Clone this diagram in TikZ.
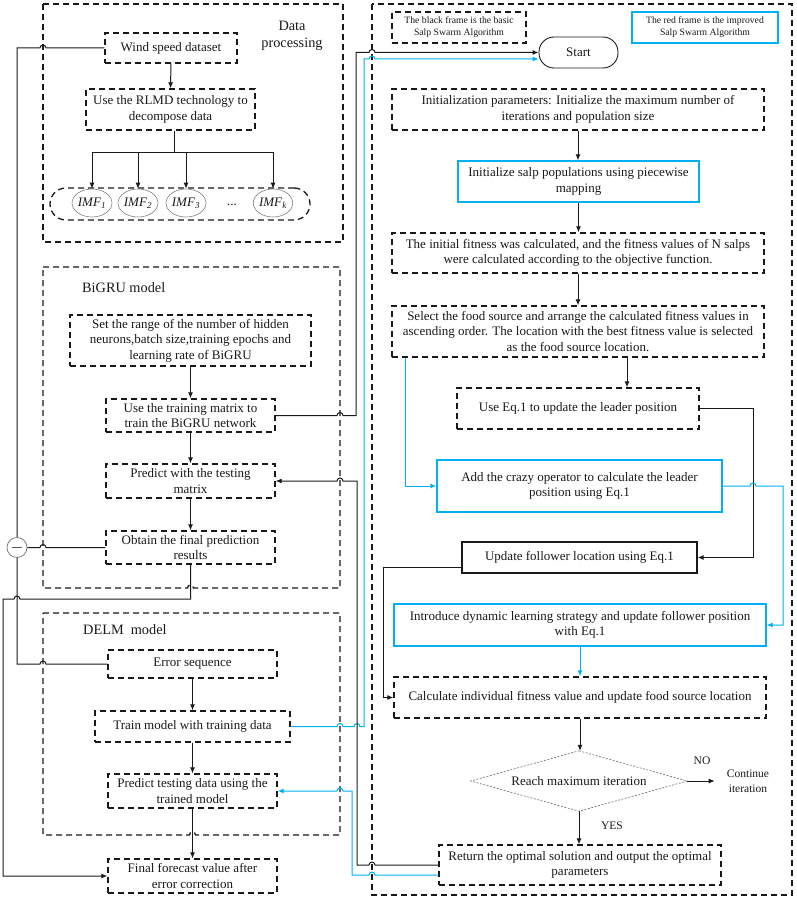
\documentclass[tikz,border=0pt]{standalone}
\usepackage{fontspec}
\setmainfont{Liberation Serif}
\usetikzlibrary{arrows.meta,shapes.geometric}
\definecolor{sky}{RGB}{0,176,240}
\definecolor{ink}{RGB}{25,25,25}
\begin{document}
\begin{tikzpicture}[x=1pt,y=1pt,
  every node/.style={font=\fontsize{13}{15.5}\selectfont, text=ink, inner sep=2pt, align=center},
  dashpat/.style={dash pattern=on 6pt off 4pt},
  dbox/.style={draw=ink, line width=1.3pt, dashpat},
  bbox/.style={draw=sky, line width=1.3pt},
  kbox/.style={draw=ink, line width=1.3pt},
  frame/.style={draw=ink, line width=1.3pt, dashpat},
  wire/.style={draw=ink, line width=1pt},
  bwire/.style={draw=sky, line width=1pt},
  arr/.style={-{Latex[length=6pt,width=5pt]}},
  hd/.style={font=\fontsize{14.3}{17}\selectfont},
  small/.style={font=\fontsize{9.7}{12}\selectfont},
  lab/.style={font=\fontsize{11.5}{15}\selectfont},
  sz/.style 2 args={minimum width=#1pt, minimum height=#2pt},
  imf/.style={ellipse, draw=gray, line width=0.6pt, minimum width=37pt, minimum height=28pt, inner sep=0pt},
]
\useasboundingbox (0,0) rectangle (796,-899);

% ---------- Data processing ----------
\draw[frame] (43,-4) rectangle (343,-242);
\node[hd] (dplab) at (292,-36) {Data\\processing};
\node[dbox,sz={132}{30}] (wind) at (171,-48) {Wind speed dataset};
\node[dbox,sz={169}{41}] (rlmd) at (170.5,-109.5) {Use the RLMD technology to\\decompose data};
\node[dbox,sz={260}{32},rounded corners=16pt] (imfs) at (180,-204) {};
\node[imf] (i1) at (92,-203) {\textit{IMF}\textsubscript{\textit{1}}};
\node[imf] (i2) at (138,-203) {\textit{IMF}\textsubscript{\textit{2}}};
\node[imf] (i3) at (186,-203) {\textit{IMF}\textsubscript{\textit{3}}};
\node[imf] (ik) at (273,-203) {\textit{IMF}\textsubscript{\textit{k}}};
\node (dots) at (232,-205) {...};
\coordinate (br) at (174,-152);
\draw[wire,arr] (wind.south) -- (rlmd.north);
\draw[wire] ([xshift=3.5pt]rlmd.south) -- (br);
\draw[wire] (i1.north |- br) -- (ik.north |- br);
\foreach \n in {i1,i2,i3,ik} \draw[wire,arr] (\n.north |- br) -- (\n.north);

% ---------- BiGRU ----------
\draw[frame] (43,-267) -- (340,-267) -- (340,-588) -- (193.5,-588) arc[start angle=0,end angle=180,radius=3pt] -- (43,-588) -- cycle;
\node[hd,anchor=west] (bglab) at (80,-288) {BiGRU model};
\node[dbox,sz={241}{51}] (range) at (190.5,-340.5) {Set the range of the number of hidden\\neurons,batch size,training epochs and\\learning rate of BiGRU};
\node[dbox,sz={169}{33}] (train) at (190.5,-415.5) {Use the training matrix to\\train the BiGRU network};
\node[dbox,sz={169}{34}] (predict) at (190.5,-481) {Predict with the testing\\matrix};
\node[dbox,sz={169}{33}] (obtain) at (190.5,-547.5) {Obtain the final prediction\\results};
\draw[wire,arr] (range.south) -- (train.north);
\draw[wire,arr] (train.south) -- (predict.north);
\draw[wire,arr] (predict.south) -- (obtain.north);
\node[draw=gray,line width=0.8pt,circle,minimum size=20pt,inner sep=0pt] (minus) at (17,-547.5) {};
\draw[gray!70!black,line width=1.4pt] ([xshift=-5pt]minus.center) -- ([xshift=5pt]minus.center);

% ---------- DELM ----------
\draw[frame] (43,-613) -- (340,-613) -- (340,-835) -- (195.5,-835) arc[start angle=0,end angle=180,radius=3pt] -- (43,-835) -- cycle;
\node[hd,anchor=west] (dllab) at (81,-630) {DELM\ \ model};
\node[dbox,sz={169}{28}] (error) at (192.5,-664) {Error sequence};
\node[dbox,sz={195}{31}] (trainm) at (192.5,-726.5) {Train model with training data};
\node[dbox,sz={169}{34}] (predt) at (192.5,-791) {Predict testing data using the\\trained model};
\node[dbox,sz={169}{34}] (final) at (192.5,-876) {Final forecast value after\\error correction};
\draw[wire,arr] (error.south) -- (trainm.north);
\draw[wire,arr] (trainm.south) -- (predt.north);
\draw[wire,arr] (predt.south) -- (final.north);

% ---------- left wires ----------
\draw[wire] (wind.west) -- (46,-48) arc[start angle=0,end angle=180,radius=3pt] -- (17,-48) -- (minus.north);
\draw[wire] (obtain.west) -- (46,-547.5) arc[start angle=0,end angle=180,radius=3pt] -- (minus.east);
\draw[wire] (minus.south) -- (17,-664) -- (40,-664) arc[start angle=180,end angle=0,radius=3pt] -- (error.west);
\draw[wire,arr] (obtain.south) -- (190.5,-599) -- (20,-599) arc[start angle=0,end angle=180,radius=3pt] -- (3,-599) -- (3,-876) -- (final.west);

% ---------- Right part ----------
\draw[frame] (372,-4) rectangle (792,-895);
\node[dbox,small,sz={134}{31}] (leg1) at (459,-27.5) {The black frame is the basic\\Salp Swarm Algorithm};
\node[bbox,small,sz={146}{31}] (leg2) at (705,-27.5) {The red frame is the improved\\Salp Swarm Algorithm};
\node[draw=ink,line width=0.9pt,rounded corners=15pt,sz={79}{31}] (start) at (578.5,-52.5) {Start};
\node[dbox,sz={372}{41}] (init) at (578,-109.5) {Initialization parameters: Initialize the maximum number of\\iterations and population size};
\node[bbox,sz={241}{41}] (salp) at (578.5,-181.5) {Initialize salp populations using piecewise\\mapping};
\node[dbox,sz={372}{40}] (fit) at (578,-253) {The initial fitness was calculated, and the fitness values of N salps\\were calculated according to the objective function.};
\node[dbox,sz={372}{51}] (select) at (578,-331.5) {Select the food source and arrange the calculated fitness values in\\ascending order. The location with the best fitness value is selected\\as the food source location.};
\node[dbox,sz={242}{41}] (leader) at (578,-408.5) {Use Eq.1 to update the leader position};
\node[bbox,sz={285}{52}] (crazy) at (579.5,-486) {Add the crazy operator to calculate the leader\\position using Eq.1};
\node[kbox,sz={235}{31}] (follow) at (579.5,-557.5) {Update follower location using Eq.1};
\node[bbox,sz={372}{42}] (intro) at (580,-625) {Introduce dynamic learning strategy and update follower position\\with Eq.1};
\node[dbox,sz={372}{41}] (calc) at (580,-697.5) {Calculate individual fitness value and update food source location};
\node[sz={216}{60},inner sep=0pt] (dia) at (579,-781) {Reach maximum iteration};
\draw[gray!80!black,line width=0.6pt,dash pattern=on 2pt off 1.5pt] (dia.north) -- (dia.east) -- (dia.south) -- (dia.west) -- cycle;
\node[dbox,sz={282}{40}] (ret) at (580,-865) {Return the optimal solution and output the optimal\\parameters};
\node[lab] (cont) at (748,-781) {Continue\\iteration};
\node[lab] (nolab) at (702,-761) {NO};
\node[lab] (yeslab) at (612,-826) {YES};

\draw[wire,arr] (init.south) -- (init.south |- salp.north);
\draw[wire,arr] (salp.south) -- (salp.south |- fit.north);
\draw[wire,arr] (fit.south) -- (fit.south |- select.north);
\draw[wire,arr] ([xshift=49pt]select.south) -- ([xshift=49pt]leader.north);
\draw[bwire,arr] ([xshift=14pt]select.south west) -- ([xshift=14pt]select.south west |- crazy.west) -- (crazy.west);
\draw[wire,arr] (leader.east) -- (753,-408.5) -- (753,-557.5) -- (follow.east);
\draw[bwire,arr] (crazy.east) -- (750,-486) arc[start angle=180,end angle=0,radius=3pt] -- (783,-486) -- (783,-625) -- (intro.east);
\draw[wire,arr] ([yshift=-10pt]follow.west) -- (383,-567.5) -- (383,-697.5) -- (calc.west);
\draw[bwire,arr] (intro.south) -- (intro.south |- calc.north);
\draw[wire,arr] (calc.south) -- (calc.south |- dia.north);
\draw[wire,arr] (dia.east) -- ([xshift=-10pt]cont.west);
\draw[wire,arr] (dia.south) -- (dia.south |- ret.north);

% ---------- crossing wires ----------
\draw[wire,arr] (train.east) -- (337,-415.5) arc[start angle=180,end angle=0,radius=3pt] -- (356,-415.5) -- (356,-52.5) -- (369,-52.5) arc[start angle=180,end angle=0,radius=3pt] -- (start.west);
\draw[bwire,arr] (trainm.east) -- (337,-726.5) arc[start angle=180,end angle=0,radius=3pt] -- (354,-726.5) arc[start angle=180,end angle=0,radius=3pt] -- (364,-726.5) -- (364,-59) -- (369,-59) arc[start angle=180,end angle=0,radius=3pt] -- ([yshift=-6.5pt]start.west);
\draw[wire,arr] (ret.west) -- (375,-865) arc[start angle=0,end angle=180,radius=3pt] -- (357,-865) -- (357,-481) -- (343,-481) arc[start angle=0,end angle=180,radius=3pt] -- (predict.east);
\draw[bwire,arr] ([yshift=-10pt]ret.west) -- (375,-875) arc[start angle=0,end angle=180,radius=3pt] -- (352,-875) -- (352,-791) -- (343,-791) arc[start angle=0,end angle=180,radius=3pt] -- (predt.east);
\end{tikzpicture}
\end{document}
